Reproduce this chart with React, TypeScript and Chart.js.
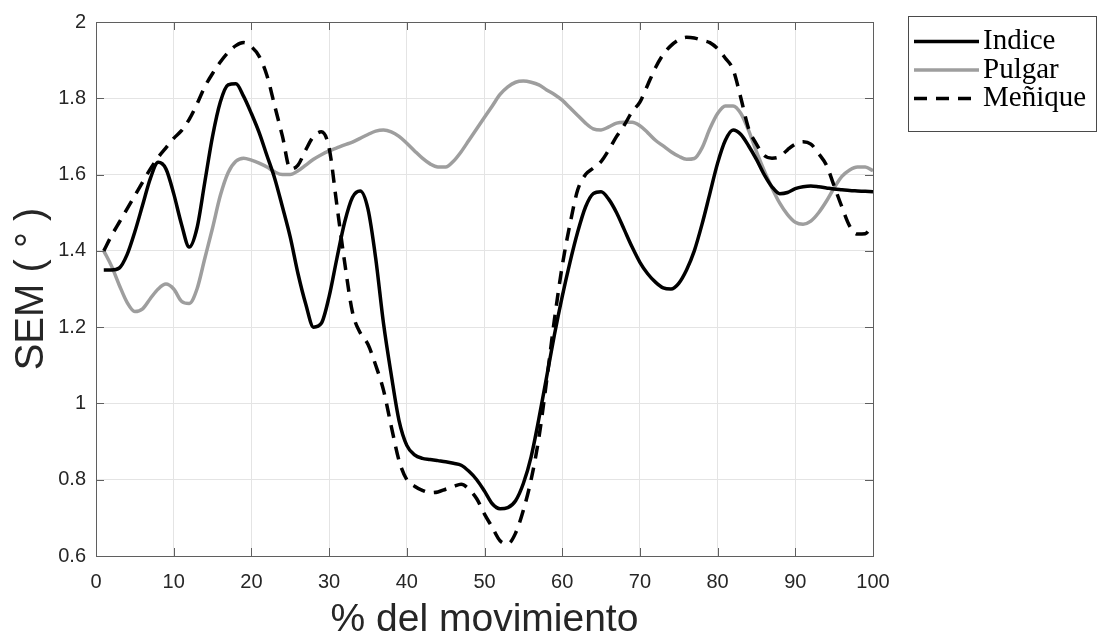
import { useEffect, useRef } from "react";
import { Chart, registerables } from "chart.js";
Chart.register(...registerables);

const pct = [1,2,3,4,5,6,7,8,9,10,11,12,13,14,15,16,17,18,19,20,21,22,23,24,25,26,27,28,29,30,31,32,33,34,35,36,37,38,39,40,41,42,43,44,45,46,47,48,49,50,51,52,53,54,55,56,57,58,59,60,61,62,63,64,65,66,67,68,69,70,71,72,73,74,75,76,77,78,79,80,81,82,83,84,85,86,87,88,89,90,91,92,93,94,95,96,97,98,99,100];

const indice = [1.35,1.35,1.355,1.39,1.45,1.52,1.59,1.632,1.615,1.55,1.47,1.41,1.46,1.58,1.70,1.79,1.835,1.838,1.805,1.76,1.71,1.65,1.59,1.515,1.436,1.34,1.26,1.20,1.21,1.28,1.38,1.475,1.54,1.557,1.51,1.38,1.21,1.075,0.955,0.89,0.865,0.856,0.853,0.85,0.847,0.843,0.838,0.822,0.80,0.77,0.737,0.724,0.727,0.745,0.79,0.86,0.96,1.07,1.18,1.28,1.37,1.45,1.515,1.55,1.555,1.535,1.50,1.455,1.41,1.37,1.34,1.318,1.303,1.30,1.315,1.35,1.40,1.47,1.55,1.63,1.69,1.717,1.705,1.675,1.64,1.60,1.568,1.55,1.553,1.563,1.568,1.57,1.568,1.565,1.562,1.56,1.558,1.557,1.556,1.555];

const pulgar = [1.40,1.36,1.31,1.265,1.241,1.248,1.275,1.30,1.313,1.30,1.268,1.262,1.30,1.38,1.46,1.545,1.605,1.635,1.643,1.638,1.63,1.62,1.607,1.60,1.60,1.61,1.625,1.64,1.652,1.662,1.67,1.678,1.685,1.695,1.705,1.714,1.717,1.712,1.70,1.682,1.662,1.643,1.628,1.62,1.62,1.635,1.66,1.69,1.72,1.75,1.78,1.81,1.83,1.842,1.845,1.842,1.835,1.822,1.81,1.795,1.775,1.755,1.735,1.72,1.717,1.725,1.735,1.737,1.737,1.728,1.71,1.69,1.675,1.66,1.648,1.64,1.642,1.67,1.72,1.76,1.78,1.78,1.76,1.715,1.66,1.61,1.565,1.525,1.495,1.475,1.47,1.478,1.50,1.53,1.565,1.595,1.612,1.62,1.62,1.61];

const menique = [1.40,1.44,1.475,1.51,1.545,1.58,1.615,1.645,1.67,1.695,1.715,1.745,1.785,1.83,1.865,1.895,1.92,1.938,1.946,1.935,1.91,1.86,1.78,1.70,1.615,1.625,1.665,1.70,1.712,1.67,1.52,1.37,1.24,1.185,1.155,1.10,1.035,0.94,0.85,0.80,0.783,0.772,0.766,0.768,0.775,0.782,0.788,0.775,0.75,0.71,0.675,0.64,0.632,0.66,0.72,0.80,0.91,1.06,1.22,1.36,1.47,1.56,1.60,1.617,1.634,1.665,1.70,1.73,1.765,1.79,1.835,1.88,1.915,1.938,1.953,1.96,1.958,1.952,1.946,1.93,1.905,1.875,1.80,1.72,1.68,1.65,1.643,1.647,1.665,1.68,1.686,1.68,1.655,1.625,1.57,1.515,1.465,1.444,1.445,1.47];

const seriesLabels = ["Indice", "Pulgar", "Meñique"];
const xTicks = [0, 10, 20, 30, 40, 50, 60, 70, 80, 90, 100];
const yTicks = [0.6, 0.8, 1, 1.2, 1.4, 1.6, 1.8, 2];

const AXIS_COLOR = "#5f5f5f";
const TICK_TEXT = "#262626";

const boxPlugin = {
  id: "matlabBox",
  afterDatasetsDraw(chart: any) {
    const { ctx, chartArea: a, scales } = chart;
    ctx.save();
    ctx.strokeStyle = AXIS_COLOR;
    ctx.lineWidth = 1;
    ctx.strokeRect(Math.round(a.left) + 0.5, Math.round(a.top) + 0.5, Math.round(a.right - a.left), Math.round(a.bottom - a.top));
    const L = 8;
    ctx.beginPath();
    for (const v of xTicks) {
      const x = Math.round(scales.x.getPixelForValue(v)) + 0.5;
      ctx.moveTo(x, a.bottom);
      ctx.lineTo(x, a.bottom - L);
      ctx.moveTo(x, a.top);
      ctx.lineTo(x, a.top + L);
    }
    for (const v of yTicks) {
      const y = Math.round(scales.y.getPixelForValue(v)) + 0.5;
      ctx.moveTo(a.left, y);
      ctx.lineTo(a.left + L, y);
      ctx.moveTo(a.right, y);
      ctx.lineTo(a.right - L, y);
    }
    ctx.stroke();
    ctx.restore();
  },
  afterDraw(chart: any) {
    const { ctx } = chart;
    ctx.save();
    const bx = 908.5, by = 16.5, bw = 188, bh = 115;
    ctx.fillStyle = "#ffffff";
    ctx.fillRect(bx, by, bw, bh);
    ctx.strokeStyle = "#4a4a4a";
    ctx.lineWidth = 1;
    ctx.strokeRect(bx, by, bw, bh);
    const rows = [41.5, 70, 98.5];
    chart.data.datasets.forEach((ds: any, i: number) => {
      const y = rows[i];
      ctx.beginPath();
      ctx.strokeStyle = ds.borderColor;
      ctx.lineWidth = ds.borderWidth;
      ctx.setLineDash(ds.borderDash || []);
      ctx.moveTo(914, y);
      ctx.lineTo(979, y);
      ctx.stroke();
      ctx.setLineDash([]);
      ctx.fillStyle = "#000000";
      ctx.font = "29px 'Liberation Serif'";
      ctx.textBaseline = "middle";
      ctx.textAlign = "left";
      ctx.fillText(ds.label, 983, y);
    });
    ctx.restore();
  },
};

export default function App() {
  const ref = useRef<HTMLCanvasElement | null>(null);
  useEffect(() => {
    document.body.style.margin = "0";
    if (!ref.current) return;
    const mk = (vals: number[]) => pct.map((x, i) => ({ x, y: vals[i] }));
    const chart = new Chart(ref.current, {
      type: "line",
      data: {
        datasets: [
          { label: seriesLabels[0], data: mk(indice), borderColor: "#000000", borderWidth: 3.5, pointRadius: 0, cubicInterpolationMode: "monotone", order: 2 },
          { label: seriesLabels[1], data: mk(pulgar), borderColor: "#9e9e9e", borderWidth: 3.5, pointRadius: 0, cubicInterpolationMode: "monotone", order: 3 },
          { label: seriesLabels[2], data: mk(menique), borderColor: "#000000", borderWidth: 3.5, borderDash: [13, 9], pointRadius: 0, cubicInterpolationMode: "monotone", order: 1 },
        ] as any,
      },
      options: {
        animation: false,
        responsive: false,
        devicePixelRatio: 1,
        layout: { padding: { left: 0, top: 16, right: 225, bottom: 0 } },
        plugins: { legend: { display: false }, tooltip: { enabled: false } },
        scales: {
          x: {
            type: "linear",
            min: 0,
            max: 100,
            afterBuildTicks: (s: any) => { s.ticks = xTicks.map((v) => ({ value: v })); },
            afterFit: (s: any) => { s.height = 85; },
            grid: { color: "#e4e4e4", lineWidth: 1, drawTicks: false },
            border: { display: false },
            ticks: { padding: 14, color: TICK_TEXT, font: { family: "'Liberation Sans'", size: 20 }, callback: (v: any) => String(v), maxRotation: 0, autoSkip: false },
            title: { display: true, text: "% del movimiento", color: TICK_TEXT, font: { family: "'Liberation Sans'", size: 39, lineHeight: 1 }, padding: { top: 0, bottom: 1 } },
          },
          y: {
            type: "linear",
            min: 0.6,
            max: 2,
            afterBuildTicks: (s: any) => { s.ticks = yTicks.map((v) => ({ value: v })); },
            afterFit: (s: any) => { s.width = 96; },
            grid: { color: "#e4e4e4", lineWidth: 1, drawTicks: false },
            border: { display: false },
            ticks: { padding: 10, color: TICK_TEXT, font: { family: "'Liberation Sans'", size: 20 }, callback: (v: any) => String(Math.round(Number(v) * 10) / 10), autoSkip: false },
            title: { display: true, text: "SEM ( ° )", color: TICK_TEXT, font: { family: "'Liberation Sans'", size: 40, lineHeight: 1 }, padding: { top: 12, bottom: 0 } },
          },
        },
      } as any,
      plugins: [boxPlugin],
    });
    return () => chart.destroy();
  }, []);
  return (
    <div style={{ position: "fixed", left: 0, top: 0, width: 1098, height: 641, background: "#fff" }}>
      <canvas ref={ref} width={1098} height={641} style={{ display: "block", width: 1098, height: 641 }} />
    </div>
  );
}
